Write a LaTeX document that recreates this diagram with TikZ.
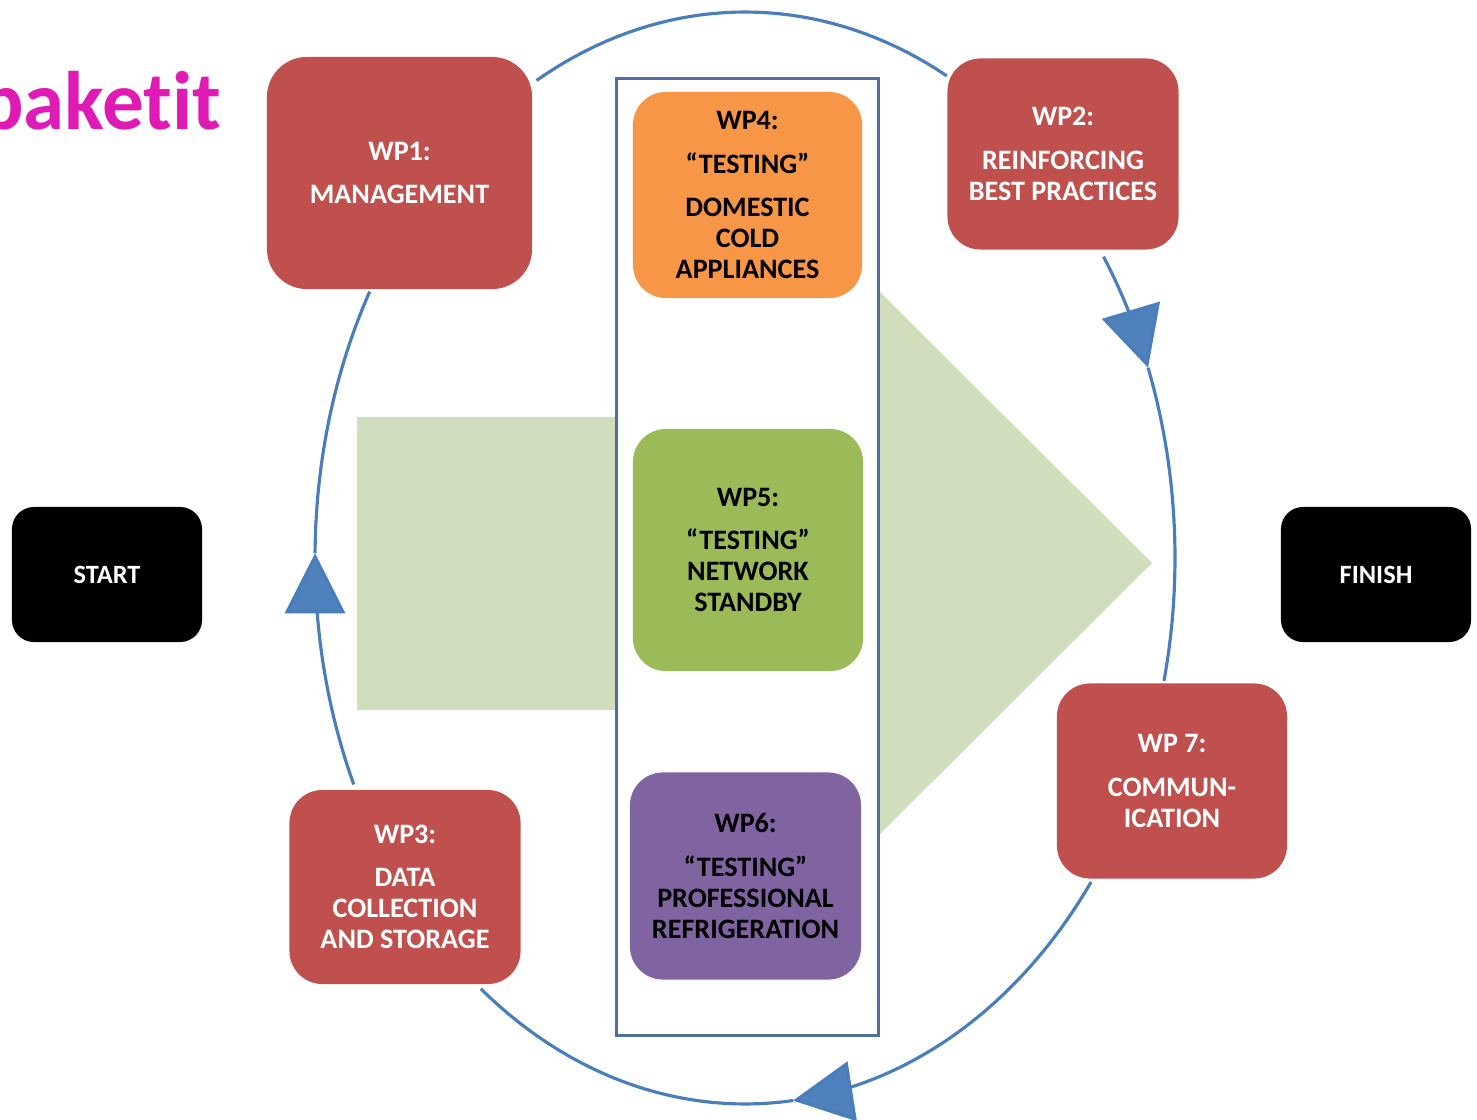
\documentclass[tikz,border=0pt]{standalone}
\usepackage{fontspec}
\setmainfont{Carlito}
\usetikzlibrary{arrows.meta}
\definecolor{wpred}{HTML}{C0504D}
\definecolor{wporange}{HTML}{F79646}
\definecolor{wpgreen}{HTML}{9BBB59}
\definecolor{wppurple}{HTML}{8064A2}
\definecolor{flowblue}{HTML}{4A7EBB}
\definecolor{tipblue}{HTML}{4F81BD}
\definecolor{frameblue}{HTML}{4F6FA0}
\definecolor{bigarrow}{HTML}{D1DEBD}
\definecolor{titlepink}{HTML}{E01BB5}
\begin{document}
\begin{tikzpicture}[x=0.01cm,y=-0.01cm,
  wpbox/.style={rounded corners=0.33cm, align=center, inner sep=0pt,
    font=\fontsize{8}{8.82}\selectfont\bfseries},
  redbox/.style={wpbox, fill=wpred, text=white},
  endbox/.style={rounded corners=0.22cm, fill=black, text=white, inner sep=0pt,
    minimum width=1.9cm, minimum height=1.35cm, font=\fontsize{7.5}{8}\selectfont\bfseries},
  flow/.style={draw=flowblue, line width=0.9pt},
  flowtip/.style={-{Triangle[length=0.6cm,width=0.6cm,fill=tipblue]}}
]
\useasboundingbox (0,0) rectangle (1477,1119);

% title
\node[anchor=base east, inner sep=0pt, text=titlepink,
  font=\fontsize{23.6}{26}\selectfont\bfseries] (title) at (222,130) {paket\kern0pt{}it};

% big green arrow
\fill[bigarrow] (357,417) -- (870,417) -- (870,282) -- (1152,563)
  -- (870,844) -- (870,710) -- (357,710) -- cycle;

% cycle (ellipse centre (745,558), radii 430 x 546)
\draw[flow] plot[domain=-119:-62, samples=40] ({745+430*cos(\x)},{558+546*sin(\x)});
\draw[flow] plot[domain=-20.4:13, samples=30] ({745+430*cos(\x)},{558+546*sin(\x)});
\draw[flow,flowtip] plot[domain=-33.5:-20.4, samples=20] ({745+430*cos(\x)},{558+546*sin(\x)});
\draw[flow] plot[domain=83.6:127.9, samples=30] ({745+430*cos(\x)},{558+546*sin(\x)});
\draw[flow,flowtip] plot[domain=36.4:83.6, samples=40] ({745+430*cos(\x)},{558+546*sin(\x)});
\draw[flow] plot[domain=180.5:209.2, samples=30] ({745+430*cos(\x)},{558+546*sin(\x)});
\draw[flow,flowtip] plot[domain=155.5:180.5, samples=30] ({745+430*cos(\x)},{558+546*sin(\x)});

% central frame
\node[draw=frameblue, line width=0.03cm, fill=white, inner sep=0pt,
  minimum width=2.61cm, minimum height=9.56cm] (frame) at (747.5,557) {};

% work packages
\node[wpbox, fill=wporange, minimum width=2.29cm, minimum height=2.06cm] (wp4) at (747.5,195)
  {WP4:\\[3.5pt] “TESTING”\\[3.5pt] DOMESTIC\\ COLD\\ APPLIANCES};
\node[wpbox, fill=wpgreen, minimum width=2.30cm, minimum height=2.42cm] (wp5) at (748,550)
  {WP5:\\[3.5pt] “TESTING”\\ NETWORK\\ STANDBY};
\node[wpbox, fill=wppurple, minimum width=2.31cm, minimum height=2.07cm] (wp6) at (745.5,876)
  {WP6:\\[3.5pt] “TESTING”\\ PROFESSIONAL\\ REFRIGERATION};

\node[redbox, rounded corners=0.4cm, minimum width=2.65cm, minimum height=2.32cm] (wp1) at (399.5,173)
  {WP1:\\[3.5pt] MANAGEMENT};
\node[redbox, minimum width=2.31cm, minimum height=1.91cm] (wp2) at (1063,154)
  {WP2:\\[3.5pt] REINFORCING\\ BEST PRACTICES};
\node[redbox, minimum width=2.31cm, minimum height=1.94cm] (wp3) at (405,887)
  {WP3:\\[3.5pt] DATA\\ COLLECTION\\ AND STORAGE};
\node[redbox, minimum width=2.30cm, minimum height=1.95cm] (wp7) at (1172,781)
  {WP 7:\\[3.5pt] COMMUN-\\ ICATION};

\node[endbox] (start) at (107,574.5) {START};
\node[endbox] (finish) at (1376,574.5) {FINISH};
\end{tikzpicture}
\end{document}
